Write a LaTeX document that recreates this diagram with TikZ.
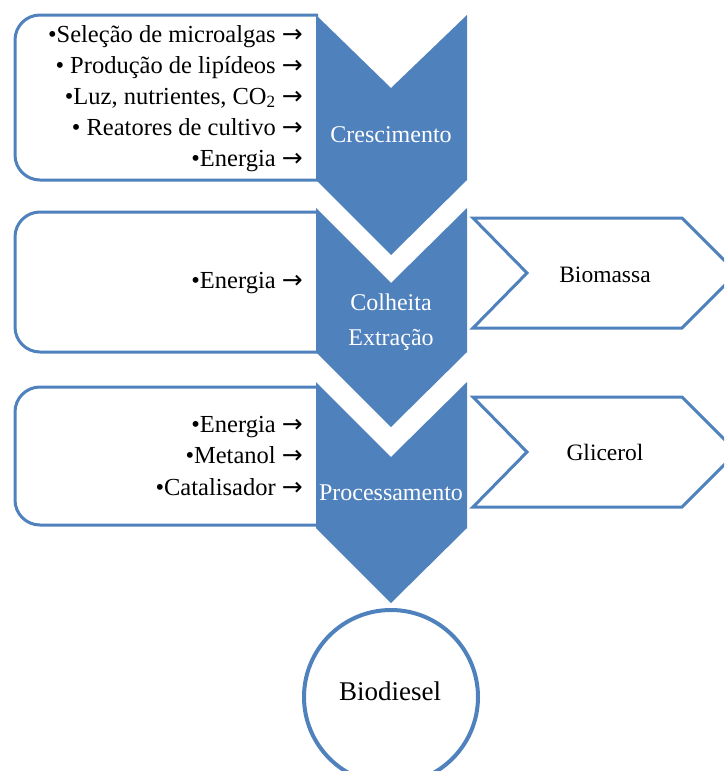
\documentclass[tikz,border=0pt]{standalone}
\usepackage{fontspec}
\setmainfont{Liberation Serif}
\newfontfamily\arrfont{DejaVu Sans}
\newcommand{\myarr}{{\arrfont\fontsize{25}{28}\selectfont →}}
\definecolor{ofblue}{HTML}{4F81BD}
\begin{document}
\begin{tikzpicture}[x=1pt,y=-1pt,
  boxline/.style={draw=ofblue,line width=3pt,fill=white,rounded corners=25pt},
  chev/.style={fill=ofblue,draw=none},
  outbox/.style={draw=ofblue,line width=3pt,fill=white,line join=miter},
  lbl/.style={font=\fontsize{24.5}{28}\selectfont,inner sep=0pt,anchor=base east},
  wlbl/.style={font=\fontsize{24}{28}\selectfont,inner sep=0pt,anchor=base,text=white},
  olbl/.style={font=\fontsize{23.5}{28}\selectfont,inner sep=0pt,anchor=base}]
\useasboundingbox (0,0) rectangle (724,771);
\clip (0,0) rectangle (724,771);
% left boxes
\draw[boxline] (318,15) -- (15,15) -- (15,180) -- (318,180);
\draw[boxline] (318,212) -- (15,212) -- (15,352) -- (318,352);
\draw[boxline] (318,387) -- (15,387) -- (15,525) -- (318,525);
% chevrons
\fill[chev] (316,15) -- (391,88) -- (467,15) -- (467,180) -- (391,255) -- (316,180) -- cycle;
\fill[chev] (316,208) -- (391,283) -- (467,208) -- (467,352) -- (391,427) -- (316,352) -- cycle;
\fill[chev] (316,382) -- (391,457) -- (467,382) -- (467,528) -- (391,603) -- (316,528) -- cycle;
% output arrows
\draw[outbox] (473,218) -- (682,218) -- (737,273) -- (682,328) -- (473,328) -- (527,273) -- cycle;
\draw[outbox] (473,397) -- (682,397) -- (737,452) -- (682,507) -- (473,507) -- (527,452) -- cycle;
% circle
\draw[ofblue,line width=4pt,fill=white] (391,697) circle[radius=87];
% texts box 1
\node[lbl] (t11) at (303,42) {•Seleção de microalgas \myarr};
\node[lbl] (t12) at (303,73) {• Produção de lipídeos \myarr};
\node[lbl] (t13) at (303,104) {•Luz, nutrientes, CO\textsubscript{2} \myarr};
\node[lbl] (t14) at (303,135) {• Reatores de cultivo \myarr};
\node[lbl] (t15) at (303,166) {•Energia \myarr};
\node[wlbl] (c1) at (391,142) {Crescimento};
% box 2
\node[lbl] (t21) at (303,288) {•Energia \myarr};
\node[wlbl] (c2a) at (391,310) {Colheita};
\node[wlbl] (c2b) at (391,345) {Extração};
% box 3
\node[lbl] (t31) at (303,432) {•Energia \myarr};
\node[lbl] (t32) at (303,463) {•Metanol \myarr};
\node[lbl] (t33) at (303,495) {•Catalisador \myarr};
\node[wlbl] (c3) at (391,500) {Processamento};
% outputs
\node[olbl] (bio) at (605,282) {Biomassa};
\node[olbl] (gli) at (605,460) {Glicerol};
\node[font=\fontsize{27}{31}\selectfont,inner sep=0pt,anchor=base] (bd) at (390,700) {Biodiesel};
\end{tikzpicture}
\end{document}
